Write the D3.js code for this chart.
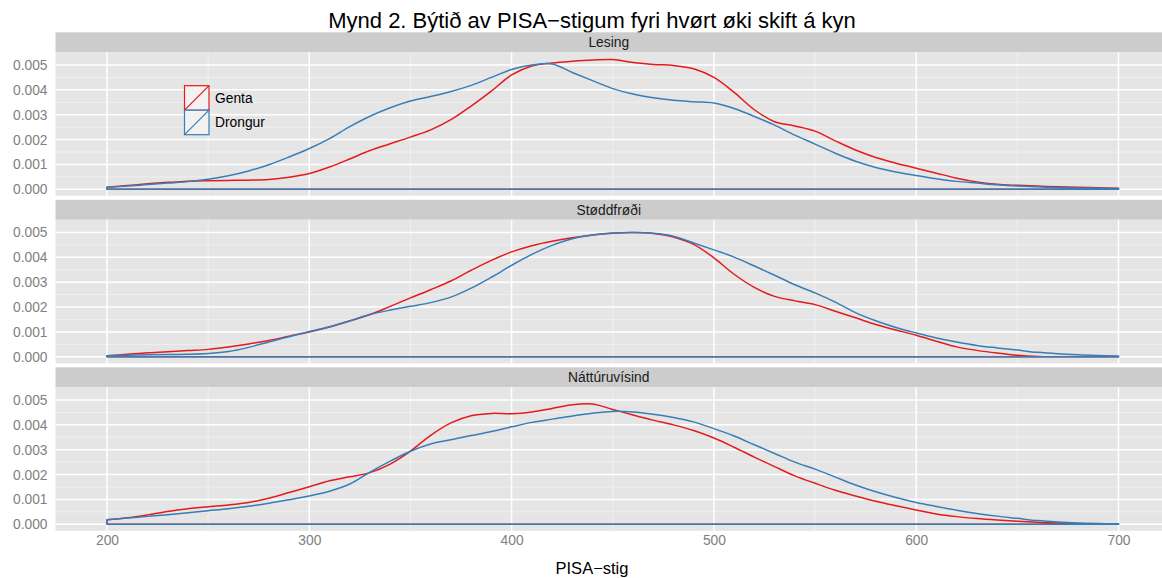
<!DOCTYPE html>
<html>
<head>
<meta charset="utf-8">
<script src="https://cdn.jsdelivr.net/npm/d3@7/dist/d3.min.js"></script>
<style>
  html, body { margin: 0; padding: 0; background: #fff; }
  svg { display: block; font-family: "Liberation Sans", Arial, sans-serif; }
</style>
</head>
<body>
<svg id="chart" width="1162" height="578"></svg>
<script>
// ---------- data ----------
const title = "Mynd 2. Býtið av PISA\u2212stigum fyri hvørt øki skift á kyn";
const xLabel = "PISA\u2212stig";
const subjects = ["Lesing", "Støddfrøði", "Náttúruvísind"];
const groups = ["Genta", "Drongur"];
const groupColors = ["#E41A1C", "#377EB8"];
const xTicks = [200, 300, 400, 500, 600, 700];
const yTicks = [0, 0.001, 0.002, 0.003, 0.004, 0.005];
const scores = [200,210,220,230,240,250,260,270,280,290,300,310,320,330,340,350,360,370,380,390,400,410,420,430,440,450,460,470,480,490,500,510,520,530,540,550,560,570,580,590,600,610,620,630,640,650,660,670,680,690,700];

const lesingGenta = [0.00008,0.00015,0.00022,0.00028,0.00033,0.00035,0.00036,0.00037,0.0004,0.00049,0.00064,0.0009,0.00122,0.00156,0.00183,0.0021,0.00239,0.0028,0.00335,0.00395,0.0046,0.00496,0.00508,0.00515,0.0052,0.00522,0.0051,0.00502,0.00498,0.00485,0.0045,0.0039,0.0032,0.00272,0.00255,0.00234,0.00195,0.00158,0.00128,0.00105,0.00085,0.00065,0.00045,0.0003,0.0002,0.00016,0.00013,0.0001,0.00008,0.00006,0.00004];
const lesingDrongur = [0.00008,0.00013,0.00019,0.00025,0.00031,0.00041,0.00055,0.00074,0.00099,0.0013,0.00164,0.00204,0.00252,0.00294,0.00328,0.00355,0.00373,0.00393,0.00418,0.0045,0.00482,0.005,0.00504,0.0047,0.00437,0.00405,0.00383,0.00368,0.00358,0.00352,0.00347,0.00325,0.00293,0.00258,0.00218,0.00182,0.00145,0.00113,0.00088,0.0007,0.00056,0.00043,0.00032,0.00025,0.00018,0.00013,0.0001,0.00007,0.00005,0.00004,0.00003];
const stoddGenta = [0.00004,0.0001,0.00016,0.0002,0.00025,0.0003,0.0004,0.00052,0.00066,0.00083,0.001,0.0012,0.00144,0.0017,0.00203,0.00237,0.0027,0.00305,0.00348,0.00388,0.00422,0.00447,0.00465,0.00479,0.0049,0.00497,0.005,0.00496,0.00482,0.00452,0.00398,0.00332,0.00279,0.00243,0.00225,0.0021,0.00183,0.00157,0.0013,0.00108,0.00087,0.00063,0.0004,0.00026,0.00015,0.00006,0.00001,0,0,0,0];
const stoddDrongur = [0.00004,0.00006,0.00008,0.00009,0.0001,0.00013,0.00021,0.00038,0.0006,0.00081,0.00102,0.00121,0.00145,0.0017,0.00188,0.00203,0.00218,0.0024,0.00276,0.0032,0.00368,0.00412,0.00448,0.00475,0.0049,0.00498,0.005,0.00497,0.00485,0.00458,0.0043,0.00401,0.00365,0.00328,0.0029,0.00257,0.0022,0.00178,0.00145,0.00118,0.00096,0.00076,0.0006,0.00046,0.00036,0.00027,0.00018,0.00012,0.00008,0.00005,0.00003];
const nattGenta = [0.00018,0.00026,0.00038,0.00052,0.00063,0.00071,0.00078,0.00088,0.00105,0.00128,0.00151,0.00175,0.00191,0.00208,0.00242,0.00294,0.00358,0.00408,0.00437,0.00446,0.00445,0.00452,0.00466,0.00481,0.00484,0.00462,0.0044,0.00419,0.004,0.00377,0.00347,0.0031,0.0027,0.00232,0.00195,0.00165,0.00137,0.00114,0.00093,0.00075,0.00058,0.00042,0.00031,0.00023,0.00017,0.00012,0.00008,0.00005,0.00003,0.00002,0.00002];
const nattDrongur = [0.00018,0.00025,0.00032,0.00039,0.00047,0.00055,0.00063,0.00073,0.00085,0.00099,0.00114,0.00133,0.00162,0.0021,0.00254,0.00294,0.00323,0.0034,0.00357,0.00373,0.00392,0.0041,0.00423,0.00436,0.00447,0.00454,0.00452,0.00443,0.0043,0.00412,0.00385,0.00355,0.0032,0.00285,0.0025,0.00222,0.0019,0.00158,0.00131,0.00108,0.00088,0.00072,0.00057,0.00044,0.00033,0.00024,0.00015,0.00009,0.00005,0.00003,0.00002];

const panelSeries = [
  [lesingGenta, lesingDrongur],
  [stoddGenta, stoddDrongur],
  [nattGenta, nattDrongur]
];

// ---------- layout ----------
const svg = d3.select("#chart");
const panelLeft = 55.5, panelRight = 1162;
const top0 = 32.3, stripH = 20, plotH = 143.5, stride = 167.5;

const x = d3.scaleLinear().domain([200, 700]).range([107, 1118.5]);
const xMinor = [250, 350, 450, 550, 650];
const yMinor = [0.0005, 0.0015, 0.0025, 0.0035, 0.0045];

svg.append("text")
  .attr("x", 592).attr("y", 28)
  .attr("text-anchor", "middle")
  .attr("font-size", 22)
  .attr("fill", "#000")
  .text(title);

subjects.forEach((subj, i) => {
  const stripTop = top0 + i * stride;
  const plotTop = stripTop + stripH;
  const plotBottom = plotTop + plotH;
  const y = d3.scaleLinear().domain([-0.00026, 0.00551]).range([plotBottom, plotTop]);

  const g = svg.append("g");
  // strip
  g.append("rect").attr("x", panelLeft).attr("y", stripTop)
    .attr("width", panelRight - panelLeft).attr("height", stripH).attr("fill", "#CCCCCC");
  g.append("text").attr("x", (panelLeft + panelRight) / 2).attr("y", stripTop + stripH / 2 + 5)
    .attr("text-anchor", "middle").attr("font-size", 13.8).attr("fill", "#1A1A1A").text(subj);
  // panel bg
  g.append("rect").attr("x", panelLeft).attr("y", plotTop)
    .attr("width", panelRight - panelLeft).attr("height", plotH).attr("fill", "#E5E5E5");

  // minor grid
  g.selectAll(".ymin").data(yMinor).enter().append("line")
    .attr("x1", panelLeft).attr("x2", panelRight)
    .attr("y1", d => y(d)).attr("y2", d => y(d))
    .attr("stroke", "#F2F2F2").attr("stroke-width", 0.8);
  g.selectAll(".xmin").data(xMinor).enter().append("line")
    .attr("y1", plotTop).attr("y2", plotBottom)
    .attr("x1", d => x(d)).attr("x2", d => x(d))
    .attr("stroke", "#F2F2F2").attr("stroke-width", 0.8);
  // major grid
  g.selectAll(".ymaj").data(yTicks).enter().append("line")
    .attr("x1", panelLeft).attr("x2", panelRight)
    .attr("y1", d => y(d)).attr("y2", d => y(d))
    .attr("stroke", "#FFFFFF").attr("stroke-width", 1.5);
  g.selectAll(".xmaj").data(xTicks).enter().append("line")
    .attr("y1", plotTop).attr("y2", plotBottom)
    .attr("x1", d => x(d)).attr("x2", d => x(d))
    .attr("stroke", "#FFFFFF").attr("stroke-width", 1.5);

  // y axis labels
  const yAxis = d3.axisLeft(y).tickValues(yTicks).tickFormat(d3.format(".3f")).tickSize(0).tickPadding(0);
  const ya = g.append("g").attr("transform", `translate(${panelLeft - 8},0)`).call(yAxis);
  ya.select(".domain").remove();
  ya.selectAll("text").attr("font-size", 13.8).attr("fill", "#7F7F7F")
    .attr("font-family", '"Liberation Sans", Arial, sans-serif');

  // density outlines
  const area = d3.area()
    .x((d, k) => x(scores[k]))
    .y0(y(0))
    .y1(d => y(d))
    .curve(d3.curveCatmullRom.alpha(0.5));
  panelSeries[i].forEach((vals, gi) => {
    g.append("path").datum(vals).attr("d", area)
      .attr("fill", "none").attr("stroke", groupColors[gi])
      .attr("stroke-width", 1.5).attr("stroke-linejoin", "round");
  });

  if (i === subjects.length - 1) {
    const xAxis = d3.axisBottom(x).tickValues(xTicks).tickFormat(d3.format("d")).tickSize(0).tickPadding(0);
    const xa = g.append("g").attr("transform", `translate(0,${plotBottom + 4})`).call(xAxis);
    xa.select(".domain").remove();
    xa.selectAll("text").attr("font-size", 13.8).attr("fill", "#7F7F7F")
      .attr("font-family", '"Liberation Sans", Arial, sans-serif');
  }

  if (i === 0) {
    // legend
    const lx = 184.5, ly = 85.7, box = 24.5;
    groups.forEach((name, gi) => {
      const by = ly + gi * box;
      g.append("rect").attr("x", lx).attr("y", by).attr("width", box).attr("height", box)
        .attr("fill", "#F2F2F2").attr("stroke", groupColors[gi]).attr("stroke-width", 1.2);
      g.append("line").attr("x1", lx).attr("y1", by + box).attr("x2", lx + box).attr("y2", by)
        .attr("stroke", groupColors[gi]).attr("stroke-width", 1.2);
      g.append("text").attr("x", lx + box + 6).attr("y", by + box / 2 + 5)
        .attr("font-size", 13.8).attr("fill", "#000").text(name);
    });
  }
});

svg.append("text")
  .attr("x", 592).attr("y", 574)
  .attr("text-anchor", "middle")
  .attr("font-size", 16.5)
  .attr("fill", "#000")
  .text(xLabel);
</script>
</body>
</html>
